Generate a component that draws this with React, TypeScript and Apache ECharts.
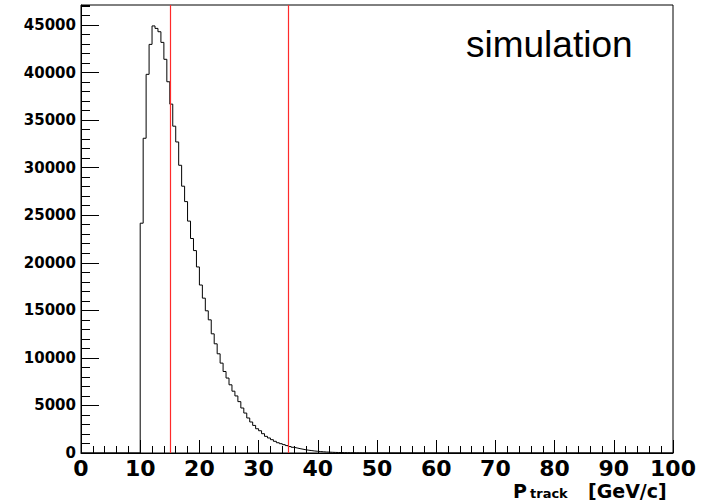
import React, { useEffect, useRef } from "react";
import * as echarts from "echarts";

// Histogram: P_track, bins of 0.5 GeV/c starting at 10 GeV/c
const binStart = 10;
const binWidth = 0.5;
const counts = [
  24160, 33090, 39810, 42960, 44900, 44640, 44290, 43170, 41390, 39030,
  36680, 34360, 32700, 30250, 28050, 26430, 24380, 22550, 21280, 19560,
  17660, 16280, 14950, 14000, 12530, 11480, 10430, 9450, 8570, 7880,
  7170, 6500, 6000, 5400, 4730, 4200, 3680, 3260, 2900, 2550,
  2340, 2030, 1750, 1580, 1400, 1230, 1080, 980, 880, 780,
  680, 600, 530, 460, 400, 340, 290, 250, 210, 180,
  150, 125, 105, 90, 75, 62, 52, 44, 37, 31,
  26, 22, 19, 16, 13, 11, 9, 8, 6, 5,
];
const cutLines = [15, 35];
const xTicks = [0, 10, 20, 30, 40, 50, 60, 70, 80, 90, 100];
const yMax = 47100;
const label = "simulation";

export default function App() {
  const ref = useRef<HTMLDivElement>(null);
  useEffect(() => {
    if (!ref.current) return;
    const chart = echarts.init(ref.current, undefined, { renderer: "svg" });
    const data: [number, number][] = [[xTicks[0], 0]];
    counts.forEach((c, i) => data.push([binStart + i * binWidth, c]));
    data.push([binStart + counts.length * binWidth, 0]);
    data.push([xTicks[xTicks.length - 1], 0]);

    chart.setOption({
      animation: false,
      backgroundColor: "#fff",
      grid: {
        left: 81,
        right: 30,
        top: 5,
        bottom: 47,
        show: true,
        borderColor: "#000",
        borderWidth: 1,
        backgroundColor: "transparent",
      },
      xAxis: {
        type: "value",
        min: xTicks[0],
        max: xTicks[xTicks.length - 1],
        interval: 10,
        axisLine: { lineStyle: { color: "#000", width: 1 } },
        axisTick: { inside: true, length: 13, lineStyle: { color: "#000" } },
        minorTick: { show: true, splitNumber: 5, length: 7, lineStyle: { color: "#000" } },
        splitLine: { show: false },
        axisLabel: {
          margin: 6,
          fontFamily: "DejaVu Sans",
          fontWeight: "bold",
          fontSize: 22,
          lineHeight: 18,
          color: "#000",
          formatter: (v: number) => String(v),
        },
      },
      yAxis: [
        {
          type: "value",
          min: 0,
          max: yMax,
          interval: 5000,
          axisLine: { show: true, lineStyle: { color: "#000", width: 1 } },
          axisTick: { show: true, inside: true, length: 18, lineStyle: { color: "#000" } },
          splitLine: { show: false },
          axisLabel: {
            fontFamily: "DejaVu Sans",
            fontWeight: "bold",
            fontSize: 15,
            lineHeight: 14,
            color: "#000",
            margin: 5,
            showMaxLabel: false,
            formatter: (v: number) => String(v),
          },
        },
        {
          type: "value",
          min: 0,
          max: yMax,
          interval: 1000,
          position: "left",
          axisLine: { show: false },
          axisTick: { show: true, inside: true, length: 9, lineStyle: { color: "#000" } },
          splitLine: { show: false },
          axisLabel: { show: false },
        },
      ],
      series: [
        {
          type: "line",
          step: "end",
          yAxisIndex: 0,
          data,
          symbol: "none",
          lineStyle: { color: "#000", width: 1 },
          silent: true,
          markLine: {
            silent: true,
            symbol: ["none", "none"],
            label: { show: false },
            lineStyle: { color: "#ff2a2a", width: 1.2, type: "solid" },
            data: cutLines.map((v) => ({ xAxis: v })),
          },
        },
      ],
      graphic: [
        {
          type: "text",
          left: 466,
          top: 26,
          style: {
            text: label,
            fontFamily: "Liberation Sans",
            fontSize: 37,
            fill: "#000",
          },
        },
        {
          type: "text",
          left: 513,
          top: 481,
          style: {
            text: "P",
            fontFamily: "DejaVu Sans",
            fontWeight: "bold",
            fontSize: 19,
            fill: "#000",
          },
        },
        {
          type: "text",
          left: 530,
          top: 487,
          style: {
            text: "track",
            fontFamily: "DejaVu Sans",
            fontWeight: "bold",
            fontSize: 13,
            fill: "#000",
          },
        },
        {
          type: "text",
          left: 588,
          top: 481,
          style: {
            text: "[GeV/c]",
            fontFamily: "DejaVu Sans",
            fontWeight: "bold",
            fontSize: 19,
            fill: "#000",
          },
        },
      ],
    });
    return () => chart.dispose();
  }, []);
  return (
    <div
      ref={ref}
      style={{ position: "fixed", left: 0, top: 0, width: 703, height: 500 }}
    />
  );
}
